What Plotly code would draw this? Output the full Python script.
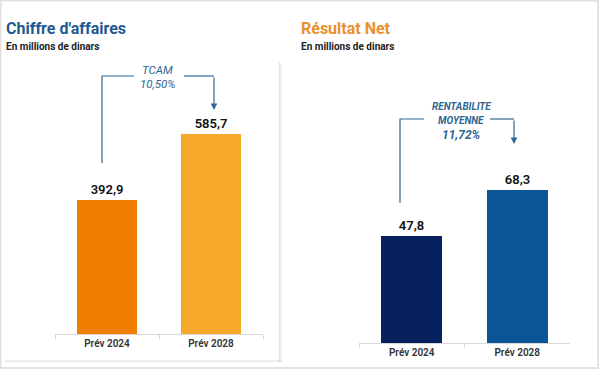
import plotly.graph_objects as go

# ---- data ----
categories = ["Prév 2024", "Prév 2028"]
ca_values = [392.9, 585.7]          # Chiffre d'affaires (millions de dinars)
rn_values = [47.8, 68.3]            # Résultat Net (millions de dinars)
ca_title = "Chiffre d'affaires"
rn_title = "Résultat Net"
unit_label = "En millions de dinars"
ca_note = ["TCAM", "10,50%"]
rn_note = ["RENTABILITE", "MOYENNE", "11,72%"]

W, H = 600, 370
def px(x): return x / W
def py(y): return 1 - y / H

def fr(v): return f"{v:.1f}".replace(".", ",")

ca_colors = ["#EF7D00", "#F6A829"]
rn_colors = ["#06215E", "#0A5596"]
note_color = "#2F6693"
FONT = "Roboto"

fig = go.Figure()
fig.add_trace(go.Bar(x=categories, y=ca_values, marker=dict(color=ca_colors, line=dict(width=0)),
                     width=0.57, text=[fr(v) for v in ca_values], textposition="outside",
                     textfont=dict(size=13, color="#111111", family=FONT, weight=600), cliponaxis=False,
                     xaxis="x", yaxis="y", showlegend=False, hoverinfo="skip"))
fig.add_trace(go.Bar(x=categories, y=rn_values, marker=dict(color=rn_colors, line=dict(width=0)),
                     width=0.58, text=[fr(v) for v in rn_values], textposition="outside",
                     textfont=dict(size=13, color="#111111", family=FONT, weight=600), cliponaxis=False,
                     xaxis="x2", yaxis="y2", showlegend=False, hoverinfo="skip"))

# left: baseline y=334, 2.932 per px ; right: baseline y=343, 0.447 per px
ca_top = 800
rn_top = 100
axis_common = dict(showline=True, linecolor="#D9D9D9", linewidth=1, ticks="outside",
                   tickson="boundaries", ticklen=4, tickcolor="#D9D9D9",
                   tickfont=dict(size=10, color="#333333", family=FONT, weight=600),
                   showgrid=False, fixedrange=True)
yaxis_common = dict(visible=False, showgrid=False, fixedrange=True)

fig.update_layout(
    width=W, height=H, margin=dict(l=0, r=0, t=0, b=0),
    paper_bgcolor="white", plot_bgcolor="rgba(0,0,0,0)",
    bargap=0,
    xaxis=dict(domain=[px(55), px(263)], anchor="y", range=[-0.5, 1.5], **axis_common),
    yaxis=dict(domain=[py(334), py(334 - ca_top / 2.932)], range=[0, ca_top], anchor="x", **yaxis_common),
    xaxis2=dict(domain=[px(359), px(570)], anchor="y2", range=[-0.5, 1.5], **axis_common),
    yaxis2=dict(domain=[py(343), py(343 - rn_top / 0.447)], range=[0, rn_top], anchor="x2", **yaxis_common),
)

shapes = []
# page border
shapes.append(dict(type="rect", xref="paper", yref="paper", x0=px(0.5), x1=px(598), y0=py(368), y1=py(0.5),
                   line=dict(color="#E2E2E2", width=2), fillcolor="rgba(0,0,0,0)", layer="below"))
# card shadow on left panel
for i, op in enumerate([0.10, 0.07, 0.04, 0.02]):
    shapes.append(dict(type="rect", xref="paper", yref="paper", x0=px(279 + i), x1=px(280 + i),
                       y0=py(362), y1=py(62 + i * 2), line=dict(width=0),
                       fillcolor=f"rgba(0,0,0,{op})", layer="below"))
for i, op in enumerate([0.08, 0.05, 0.03]):
    shapes.append(dict(type="rect", xref="paper", yref="paper", x0=px(5), x1=px(281),
                       y0=py(361 + i), y1=py(360 + i), line=dict(width=0),
                       fillcolor=f"rgba(0,0,0,{op})", layer="below"))

def bracket(path):
    shapes.append(dict(type="path", xref="paper", yref="paper", path=path,
                       line=dict(color=note_color, width=1.2)))

def P(points):
    return "M " + " L ".join(f"{px(x)},{py(y)}" for x, y in points)

bracket(P([(102, 163), (102, 76), (134, 76)]))
bracket(P([(184, 76), (214, 76)]))
bracket(P([(400, 203), (400, 119), (424, 119)]))
bracket(P([(490, 119), (514, 119)]))
fig.update_layout(shapes=shapes)

ann = []
def text(x, y, t, size, color, bold=False, italic=False, family=FONT, xanchor="center"):
    s = t
    if bold: s = f"<b>{s}</b>"
    if italic: s = f"<i>{s}</i>"
    ann.append(dict(xref="paper", yref="paper", x=px(x), y=py(y), text=s, showarrow=False,
                    xanchor=xanchor, yanchor="middle", font=dict(size=size, color=color, family=family)))

text(4, 28, ca_title, 16, "#1F5A8E", bold=True, xanchor="left")
text(4, 46, unit_label, 10, "#222222", bold=True, xanchor="left")
text(299, 28, rn_title, 16, "#E8912D", bold=True, xanchor="left")
text(299, 46, unit_label, 10, "#222222", bold=True, xanchor="left")

text(158, 70, ca_note[0], 11.5, note_color, italic=True)
text(158, 83.5, ca_note[1], 11.5, note_color, italic=True)
text(461, 107, rn_note[0], 10, note_color, bold=True, italic=True)
text(461, 120, rn_note[1], 10, note_color, bold=True, italic=True)
text(461, 135, rn_note[2], 12, note_color, bold=True, italic=True)

# arrows
for (x, y0, y1) in [(214, 76, 110), (514, 119, 144)]:
    ann.append(dict(xref="paper", yref="paper", x=px(x), y=py(y1), ax=0, ay=-(y1 - y0),
                    text="", showarrow=True, arrowhead=2, arrowsize=1.1, arrowwidth=1.2,
                    arrowcolor=note_color, standoff=0))
fig.update_layout(annotations=ann)

fig.write_html("out.html", config={"displayModeBar": False},
               post_script="document.body.style.margin='0';")
